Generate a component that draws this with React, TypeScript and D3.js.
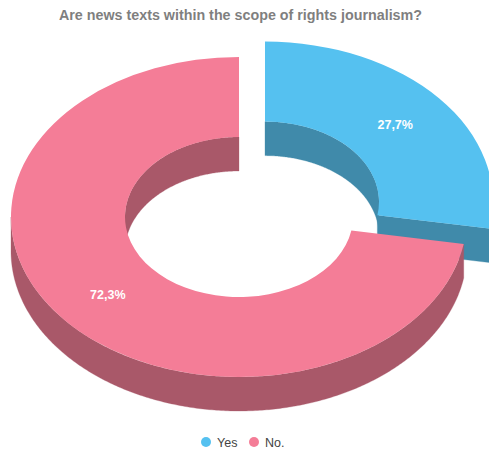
import React from "react";
import * as d3 from "d3";

// Survey answers, in percent
const categories = ["Yes", "No."];
const shares = [27.7, 72.3];
const labels = ["27,7%", "72,3%"];
const topColors = ["#55c1f0", "#f47d97"];
const sideColors = ["#408aaa", "#a95869"];
const explodedFlags = [true, false];

const title = "Are news texts within the scope of rights journalism?";
const FONT = "'Liberation Sans', Arial, sans-serif";

const WIDTH = 489;
const HEIGHT = 451;
const CX = 239;
const CY = 217;
const RX = 228;
const TILT = 160 / 228;
const INNER = 0.5;
const DEPTH = 34;
const EXPLODE = 34;

const TAU = Math.PI * 2;

// Side band along an elliptical arc of the given radius, dropped by the ring's depth
function wallPath(radius: number, from: number, to: number): string {
  const steps = d3.range(from, to, 0.01).concat([to]);
  return (
    d3
      .area<number>()
      .x((a) => radius * Math.sin(a))
      .y0((a) => -radius * TILT * Math.cos(a))
      .y1((a) => -radius * TILT * Math.cos(a) + DEPTH)(steps) ?? ""
  );
}

// Flat face exposed where a slice is cut at the given angle
function cutPath(angle: number): string {
  const r0 = RX * INNER;
  const pts: [number, number][] = [
    [r0 * Math.sin(angle), -r0 * TILT * Math.cos(angle)],
    [RX * Math.sin(angle), -RX * TILT * Math.cos(angle)],
    [RX * Math.sin(angle), -RX * TILT * Math.cos(angle) + DEPTH],
    [r0 * Math.sin(angle), -r0 * TILT * Math.cos(angle) + DEPTH],
  ];
  return (d3.line()(pts) ?? "") + "Z";
}

export default function App() {
  const slices = d3
    .pie<number>()
    .sort(null)
    .value((d) => d)(shares);

  const ring = d3
    .arc<d3.PieArcDatum<number>>()
    .innerRadius(RX * INNER)
    .outerRadius(RX);

  const color = d3.scaleOrdinal<string, string>().domain(categories).range(topColors);
  const sideColor = d3.scaleOrdinal<string, string>().domain(categories).range(sideColors);

  const legendX = d3.scalePoint<string>().domain(categories).range([206, 254]);

  return (
    <svg
      width={WIDTH}
      height={HEIGHT}
      viewBox={`0 0 ${WIDTH} ${HEIGHT}`}
      style={{ position: "absolute", left: 0, top: 0, fontFamily: FONT }}
    >
      <text x={240.5} y={19.5} textAnchor="middle" fontSize={14.3} fontWeight={700} fill="#7f7f7f">
        {title}
      </text>

      {slices.map((s, i) => {
        const mid = (s.startAngle + s.endAngle) / 2;
        const off = explodedFlags[i] ? EXPLODE : 0;
        const dx = CX + off * Math.sin(mid);
        const dy = CY - off * TILT * Math.cos(mid);
        const cat = categories[i];
        const r0 = RX * INNER;
        // The hollow's far wall faces the viewer on the back half, the rim on the front half
        const backA = s.startAngle < TAU / 4 ? [s.startAngle, Math.min(s.endAngle, TAU / 4)] : null;
        const backB = s.endAngle > (3 * TAU) / 4 ? [Math.max(s.startAngle, (3 * TAU) / 4), s.endAngle] : null;
        const frontFrom = Math.max(s.startAngle, TAU / 4);
        const frontTo = Math.min(s.endAngle, (3 * TAU) / 4);
        return (
          <g key={cat} transform={`translate(${dx},${dy})`}>
            <g fill={sideColor(cat)} stroke={sideColor(cat)} strokeWidth={0.3}>
              {backA && <path d={wallPath(r0, backA[0], backA[1])} />}
              {backB && <path d={wallPath(r0, backB[0], backB[1])} />}
              {s.endAngle < TAU / 2 && <path d={cutPath(s.endAngle)} />}
              {frontFrom < frontTo && <path d={wallPath(RX, frontFrom, frontTo)} />}
            </g>
            <path d={ring(s) ?? ""} transform={`scale(1,${TILT})`} fill={color(cat)} />
          </g>
        );
      })}

      {slices.map((s, i) => {
        const mid = (s.startAngle + s.endAngle) / 2;
        const off = explodedFlags[i] ? EXPLODE : 0;
        const r = RX * 0.75 + off;
        return (
          <text
            key={labels[i]}
            x={CX + r * Math.sin(mid) - 0.5}
            y={CY - r * TILT * Math.cos(mid) + 4.5}
            textAnchor="middle"
            fontSize={12.5}
            fontWeight={700}
            fill="#ffffff"
          >
            {labels[i]}
          </text>
        );
      })}

      {categories.map((c) => (
        <g key={c} transform={`translate(${legendX(c)},442)`}>
          <circle r={5} fill={color(c)} />
          <text x={11} y={4.5} fontSize={12.5} fill="#444444">
            {c}
          </text>
        </g>
      ))}
    </svg>
  );
}
